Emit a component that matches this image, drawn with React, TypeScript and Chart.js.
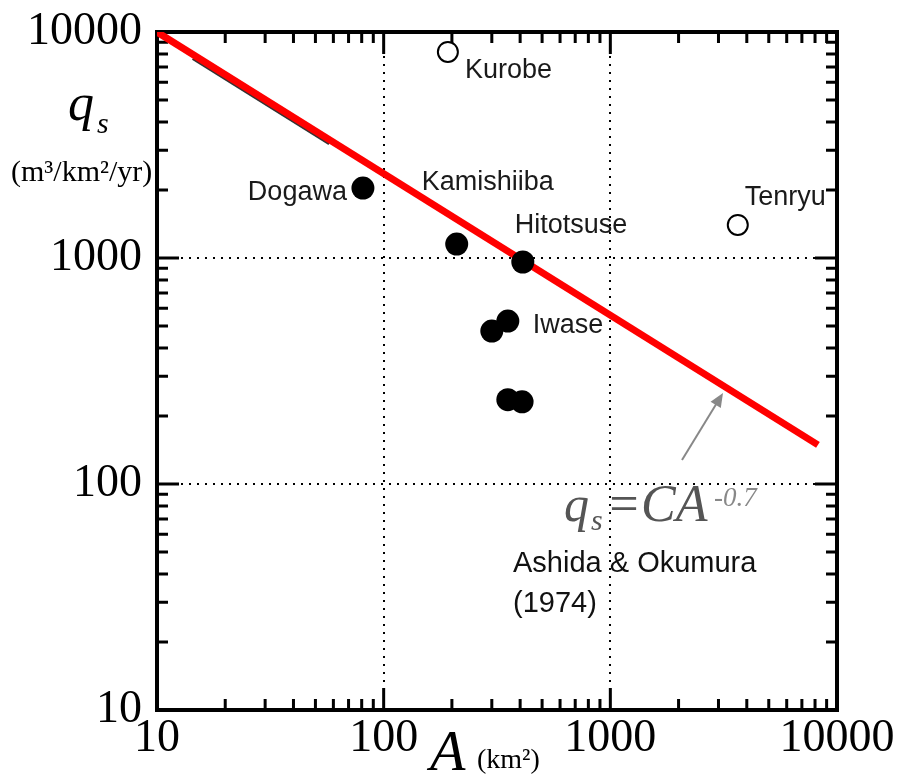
import React, { useEffect, useRef } from "react";
import { Chart, registerables } from "chart.js";
Chart.register(...registerables);

// Drainage area A (km2) and sediment yield qs (m3/km2/yr)
const filledNames = ["Dogawa", "Kamishiiba", "Hitotsuse", "Iwase", "", "", ""];
const filledArea = [81, 210, 411, 353, 300, 353, 408];
const filledQs = [2040, 1153, 960, 526, 475, 236, 231];
const openNames = ["Kurobe", "Tenryu"];
const openArea = [192, 3650];
const openQs = [8160, 1400];
const fitArea = [10, 8240];
const fitQs = [10000, 149];
const underArea = [14.5, 58];
const underQs = [7744, 3248];
const majorTicks = [10, 100, 1000, 10000];
const tickLabels = ["10", "100", "1000", "10000"];

const SERIF = '"Liberation Serif", "Times New Roman", serif';
const SANS = '"Liberation Sans", Arial, sans-serif';

// label offsets (px) relative to their point
const labelOffsets: Record<string, [number, number, CanvasTextAlign]> = {
  Kurobe: [17, 26, "left"],
  Dogawa: [-16, 12, "right"],
  Kamishiiba: [-35, -54, "left"],
  Hitotsuse: [-8, -29, "left"],
  Iwase: [25, 12, "left"],
  Tenryu: [7, -20, "left"],
};

const framePlugin = {
  id: "frame",
  beforeDatasetsDraw(chart: any) {
    const { ctx, chartArea: a, scales } = chart;
    const xs = scales.x, ys = scales.y;
    ctx.save();
    // dotted grid at inner decades
    ctx.strokeStyle = "#000";
    ctx.lineWidth = 2;
    ctx.setLineDash([2, 6]);
    majorTicks.slice(1, -1).forEach((v) => {
      const px = Math.round(xs.getPixelForValue(v));
      ctx.beginPath();
      ctx.moveTo(px, a.top);
      ctx.lineTo(px, a.bottom);
      ctx.stroke();
      const py = Math.round(ys.getPixelForValue(v));
      ctx.beginPath();
      ctx.moveTo(a.left, py);
      ctx.lineTo(a.right, py);
      ctx.stroke();
    });
    ctx.setLineDash([]);
    // ticks
    ctx.lineWidth = 3;
    const vals: { v: number; major: boolean }[] = [];
    for (let d = 10; d < 10000; d *= 10) {
      for (let m = 1; m < 10; m++) vals.push({ v: d * m, major: m === 1 });
    }
    vals.forEach(({ v, major }) => {
      const len = major ? 22 : 11;
      const px = xs.getPixelForValue(v);
      const py = ys.getPixelForValue(v);
      ctx.beginPath();
      ctx.moveTo(px, a.bottom);
      ctx.lineTo(px, a.bottom - len);
      ctx.moveTo(px, a.top);
      ctx.lineTo(px, a.top + len);
      ctx.moveTo(a.left, py);
      ctx.lineTo(a.left + len, py);
      ctx.moveTo(a.right, py);
      ctx.lineTo(a.right - len, py);
      ctx.stroke();
    });
    // frame
    ctx.lineWidth = 4;
    ctx.strokeRect(a.left, a.top, a.right - a.left, a.bottom - a.top);
    ctx.restore();
  },
  afterDraw(chart: any) {
    const { ctx, scales } = chart;
    const xs = scales.x, ys = scales.y;
    ctx.save();
    ctx.fillStyle = "#1a1a1a";
    ctx.textBaseline = "alphabetic";
    ctx.font = `27px ${SANS}`;
    const put = (name: string, a: number, q: number) => {
      const off = labelOffsets[name];
      if (!off) return;
      ctx.textAlign = off[2];
      ctx.fillText(name, xs.getPixelForValue(a) + off[0], ys.getPixelForValue(q) + off[1]);
    };
    filledNames.forEach((n, i) => put(n, filledArea[i], filledQs[i]));
    openNames.forEach((n, i) => put(n, openArea[i], openQs[i]));

    // axis titles
    ctx.fillStyle = "#000";
    ctx.textAlign = "left";
    ctx.font = `italic 52px ${SERIF}`;
    ctx.fillText("q", 68, 120);
    ctx.font = `italic 30px ${SERIF}`;
    ctx.fillText("s", 97, 133);
    ctx.font = `30px ${SERIF}`;
    ctx.fillText("(m³/km²/yr)", 11, 181);
    ctx.font = `italic 58px ${SERIF}`;
    ctx.fillText("A", 430, 770);
    ctx.font = `28px ${SERIF}`;
    ctx.fillText("(km²)", 477, 768);

    // formula
    ctx.fillStyle = "#555";
    ctx.font = `italic 50px ${SERIF}`;
    ctx.fillText("q", 564, 521);
    ctx.font = `italic 30px ${SERIF}`;
    ctx.fillText("s", 591, 530);
    ctx.font = `italic 52px ${SERIF}`;
    ctx.fillText("=CA", 606, 521);
    ctx.fillStyle = "#888";
    ctx.font = `italic 27px ${SERIF}`;
    ctx.fillText("-0.7", 714, 506);

    ctx.fillStyle = "#111";
    ctx.font = `29px ${SANS}`;
    ctx.fillText("Ashida & Okumura", 513, 572);
    ctx.fillText("(1974)", 513, 612);

    // arrow
    const x0 = 682, y0 = 460, x1 = 723, y1 = 393;
    const ang = Math.atan2(y1 - y0, x1 - x0);
    ctx.strokeStyle = "#888";
    ctx.fillStyle = "#888";
    ctx.lineWidth = 2;
    ctx.beginPath();
    ctx.moveTo(x0, y0);
    ctx.lineTo(x1 - 10 * Math.cos(ang), y1 - 10 * Math.sin(ang));
    ctx.stroke();
    ctx.beginPath();
    ctx.moveTo(x1, y1);
    ctx.lineTo(x1 - 14 * Math.cos(ang) + 6 * Math.sin(ang), y1 - 14 * Math.sin(ang) - 6 * Math.cos(ang));
    ctx.lineTo(x1 - 14 * Math.cos(ang) - 6 * Math.sin(ang), y1 - 14 * Math.sin(ang) + 6 * Math.cos(ang));
    ctx.closePath();
    ctx.fill();
    ctx.restore();
  },
};

export default function App() {
  const ref = useRef<HTMLCanvasElement>(null);
  useEffect(() => {
    const chart = new Chart(ref.current!, {
      type: "scatter",
      data: {
        datasets: [
          {
            type: "line",
            data: underArea.map((a, i) => ({ x: a, y: underQs[i] })),
            borderColor: "#333",
            borderWidth: 6,
            pointRadius: 0,
            order: 4,
          } as any,
          {
            type: "line",
            data: fitArea.map((a, i) => ({ x: a, y: fitQs[i] })),
            borderColor: "#ff0000",
            borderWidth: 7,
            pointRadius: 0,
            order: 3,
          } as any,
          {
            data: filledArea.map((a, i) => ({ x: a, y: filledQs[i] })),
            backgroundColor: "#000",
            borderWidth: 0,
            pointRadius: 11.5,
            order: 1,
          },
          {
            data: openArea.map((a, i) => ({ x: a, y: openQs[i] })),
            backgroundColor: "#fff",
            borderColor: "#000",
            borderWidth: 2,
            pointRadius: 10,
            order: 2,
          },
        ],
      },
      options: {
        animation: false,
        responsive: true,
        maintainAspectRatio: false,
        layout: { padding: { top: 32, right: 64, left: 0, bottom: 0 } },
        plugins: { legend: { display: false }, tooltip: { enabled: false } },
        scales: {
          x: {
            type: "logarithmic",
            min: 10,
            max: 10000,
            grid: { display: false },
            border: { display: false },
            afterFit: (s: any) => {
              s.height = 68;
              s.paddingLeft = 0;
              s.paddingRight = 0;
            },
            afterBuildTicks: (s: any) => { s.ticks = majorTicks.map((v) => ({ value: v })); },
            ticks: {
              autoSkip: false,
              maxRotation: 0,
              padding: -2,
              color: "#000",
              font: { family: SERIF, size: 46, lineHeight: 1 },
              callback: (v: any) => tickLabels[majorTicks.indexOf(Number(v))] ?? "",
            },
          },
          y: {
            type: "logarithmic",
            min: 10,
            max: 10000,
            grid: { display: false },
            border: { display: false },
            afterFit: (s: any) => {
              s.width = 157;
              s.paddingTop = 0;
              s.paddingBottom = 0;
            },
            afterBuildTicks: (s: any) => { s.ticks = majorTicks.map((v) => ({ value: v })); },
            ticks: {
              autoSkip: false,
              padding: 7,
              color: "#000",
              font: { family: SERIF, size: 46 },
              callback: (v: any) => tickLabels[majorTicks.indexOf(Number(v))] ?? "",
            },
          },
        },
      },
      plugins: [framePlugin],
    } as any);
    return () => chart.destroy();
  }, []);
  return (
    <div style={{ position: "fixed", left: 0, top: 0, width: 901, height: 778, background: "#fff" }}>
      <canvas ref={ref} />
    </div>
  );
}
